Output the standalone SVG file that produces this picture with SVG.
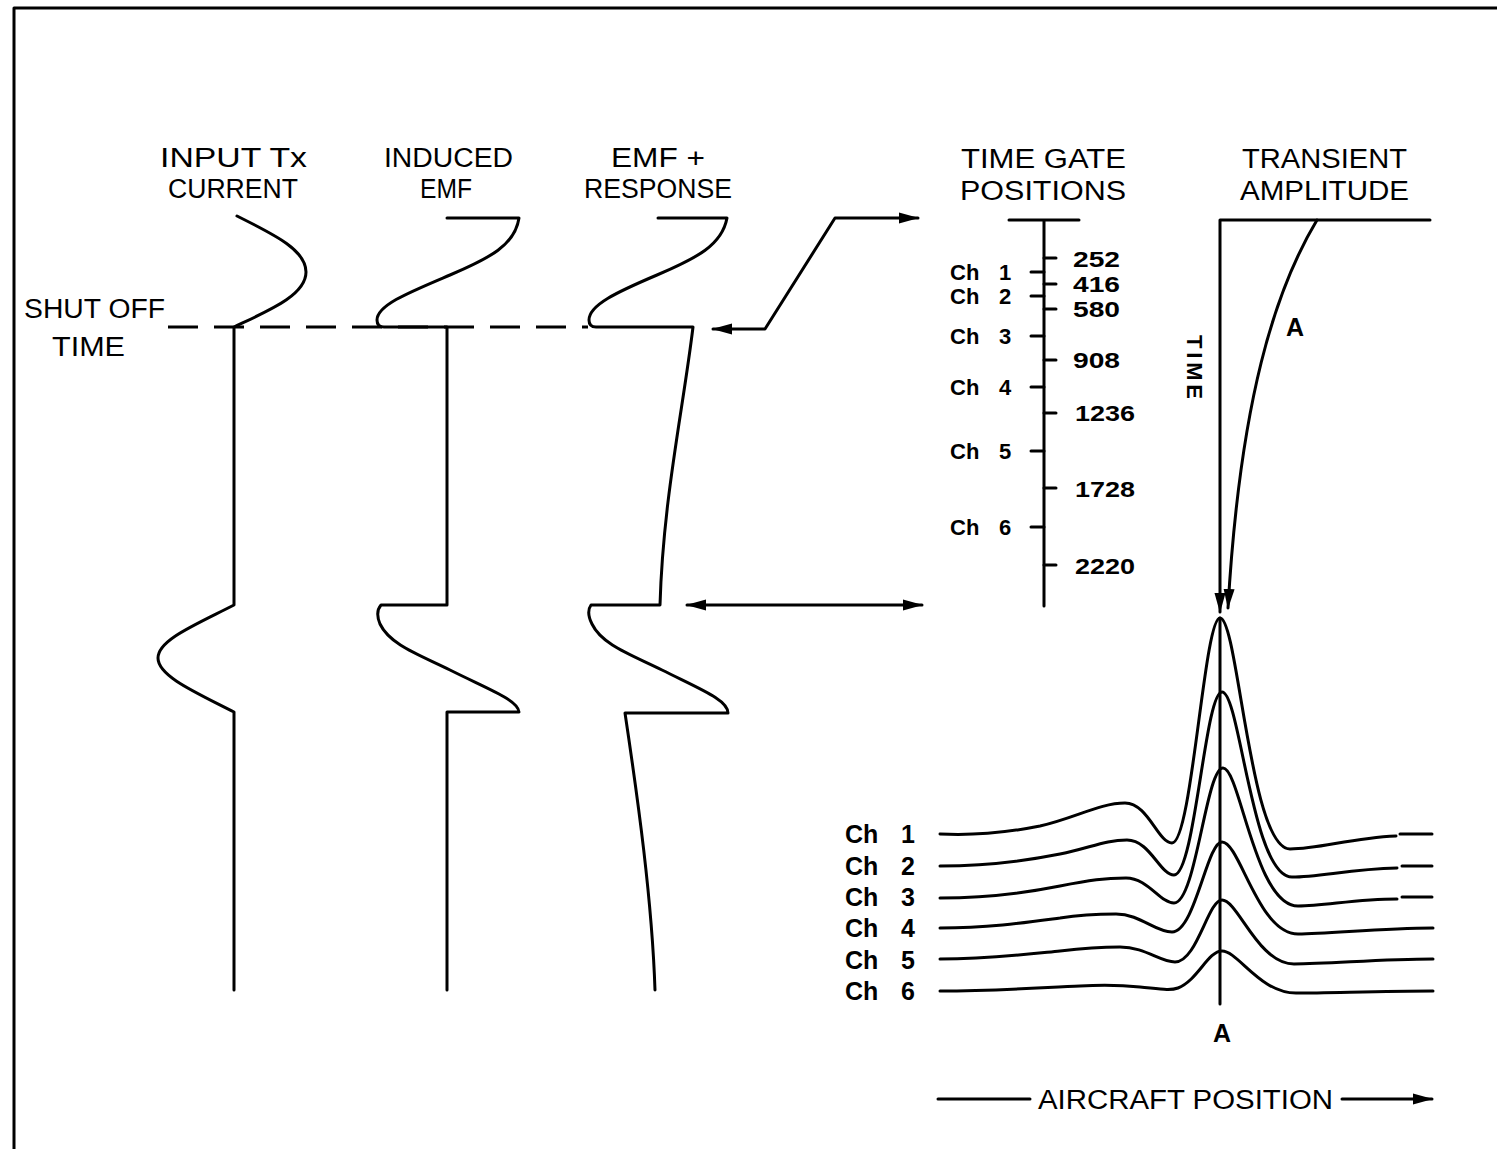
<svg xmlns="http://www.w3.org/2000/svg" width="1497" height="1149" viewBox="0 0 1497 1149">
<defs>
<style>
.ln{fill:none;stroke:#000;stroke-width:3;stroke-linecap:round;stroke-linejoin:round}
.dash{fill:none;stroke:#000;stroke-width:3;stroke-dasharray:30 16}
.hd{font-family:"Liberation Sans",Arial,sans-serif;font-size:27px;fill:#000}
.ch{font-family:"Liberation Sans",Arial,sans-serif;font-size:22px;font-weight:bold;fill:#000}
.chb{font-family:"Liberation Sans",Arial,sans-serif;font-size:25px;font-weight:bold;fill:#000}
.big{font-family:"Liberation Sans",Arial,sans-serif;font-size:25px;font-weight:bold;fill:#000}
</style>
<marker id="ah" markerWidth="20" markerHeight="12" refX="19" refY="6" orient="auto-start-reverse" markerUnits="userSpaceOnUse">
<path d="M0,0.5 L20,6 L0,11.5 Z" fill="#000"/>
</marker>
</defs>
<rect width="1497" height="1149" fill="#fff"/>
<g id="frame">
<path class="ln" d="M1497,8 L14,8 L14,1149"/>
</g>
<g id="labels">
<text class="hd" x="160" y="167" textLength="147" lengthAdjust="spacingAndGlyphs">INPUT Tx</text>
<text class="hd" x="168" y="198" textLength="130" lengthAdjust="spacingAndGlyphs">CURRENT</text>
<text class="hd" x="384" y="167" textLength="129" lengthAdjust="spacingAndGlyphs">INDUCED</text>
<text class="hd" x="420" y="198" textLength="52" lengthAdjust="spacingAndGlyphs">EMF</text>
<text class="hd" x="611" y="167" textLength="94" lengthAdjust="spacingAndGlyphs">EMF +</text>
<text class="hd" x="584" y="198" textLength="148" lengthAdjust="spacingAndGlyphs">RESPONSE</text>
<text class="hd" x="961" y="168" textLength="165" lengthAdjust="spacingAndGlyphs">TIME GATE</text>
<text class="hd" x="960" y="200" textLength="166" lengthAdjust="spacingAndGlyphs">POSITIONS</text>
<text class="hd" x="1242" y="168" textLength="165" lengthAdjust="spacingAndGlyphs">TRANSIENT</text>
<text class="hd" x="1240" y="200" textLength="169" lengthAdjust="spacingAndGlyphs">AMPLITUDE</text>
<text class="hd" x="24" y="318" textLength="141" lengthAdjust="spacingAndGlyphs">SHUT OFF</text>
<text class="hd" x="52" y="356" textLength="73" lengthAdjust="spacingAndGlyphs">TIME</text>
</g>
<g id="shutoff-line">
<path class="dash" d="M168,327 L588,327"/>
</g>
<g id="input-current">
<path class="ln" d="M237,216 C275,235 306,250 306,272 C306,295 270,310 234,327 L234,605 C195,625 158,640 158,658 C158,676 195,692 234,712 L234,990"/>
</g>
<g id="induced-emf">
<path class="ln" d="M447,218 L519,218 C515,245 490,258 450,275 C410,292 377,305 377,320 Q377,327 384,327 L447,327 L447,605 L381,605 Q375,612 380,624 C390,645 420,655 450,670 C490,690 518,700 519,712 L447,712 L447,990"/>
</g>
<g id="emf-response">
<path class="ln" d="M658,218 L727,218 C722,245 697,258 657,275 C617,292 589,305 589,320 Q589,327 596,327 L693,327 C683,410 663,500 660,605 L591,605 Q586,612 592,624 C602,645 632,655 662,670 C702,690 728,700 728,713 L625,713 C638,800 652,900 655,990"/>
</g>
<g id="connectors">
<path class="ln" d="M713,329 L765,329 L835,218 L918,218" marker-start="url(#ah)" marker-end="url(#ah)"/>
<path class="ln" d="M687,605 L922,605" marker-start="url(#ah)" marker-end="url(#ah)"/>
</g>
<g id="time-gate-axis">
<path class="ln" d="M1009,220 L1079,220 M1044,220 L1044,606"/>
<path class="ln" d="M1044,258 L1056,258 M1044,284 L1056,284 M1044,309 L1056,309 M1044,360 L1056,360 M1044,413 L1056,413 M1044,488 L1056,488 M1044,565 L1056,565"/>
<path class="ln" d="M1031,272 L1044,272 M1031,296 L1044,296 M1031,336 L1044,336 M1031,387 L1044,387 M1031,451 L1044,451 M1031,527 L1044,527"/>
<text class="ch" x="950" y="280">Ch<tspan x="999">1</tspan></text>
<text class="ch" x="950" y="304">Ch<tspan x="999">2</tspan></text>
<text class="ch" x="950" y="344">Ch<tspan x="999">3</tspan></text>
<text class="ch" x="950" y="395">Ch<tspan x="999">4</tspan></text>
<text class="ch" x="950" y="459">Ch<tspan x="999">5</tspan></text>
<text class="ch" x="950" y="535">Ch<tspan x="999">6</tspan></text>
<text class="ch" x="1073" y="267" textLength="47" lengthAdjust="spacingAndGlyphs">252</text>
<text class="ch" x="1073" y="292" textLength="47" lengthAdjust="spacingAndGlyphs">416</text>
<text class="ch" x="1073" y="317" textLength="47" lengthAdjust="spacingAndGlyphs">580</text>
<text class="ch" x="1073" y="368" textLength="47" lengthAdjust="spacingAndGlyphs">908</text>
<text class="ch" x="1075" y="421" textLength="60" lengthAdjust="spacingAndGlyphs">1236</text>
<text class="ch" x="1075" y="497" textLength="60" lengthAdjust="spacingAndGlyphs">1728</text>
<text class="ch" x="1075" y="574" textLength="60" lengthAdjust="spacingAndGlyphs">2220</text>
</g>
<g id="transient-amplitude">
<path class="ln" d="M1430,220 L1220,220 L1220,612" marker-end="url(#ah)"/>
<path class="ln" d="M1317,220 C1275,290 1240,400 1228,608" marker-end="url(#ah)"/>
<text class="big" x="1286" y="336">A</text>
<text class="ch" transform="translate(1187,367) rotate(90)" text-anchor="middle" textLength="64" lengthAdjust="spacing">TIME</text>
</g>
<g id="channel-profiles">
<path class="ln" d="M1220,618 L1220,1004"/>
<path class="ln" d="M940,834 C980,836 1010,832 1040,826 C1075,818 1100,803 1125,803 C1148,803 1158,843 1172,843 C1192,843 1204,618 1220,618 C1238,618 1250,849 1290,849 C1320,849 1350,838 1396,836 M1400,834 L1432,834"/>
<path class="ln" d="M940,866 C990,866 1030,860 1060,854 C1090,848 1105,840 1127,840 C1150,840 1160,875 1174,875 C1195,875 1205,692 1222,692 C1240,692 1252,877 1292,877 C1320,877 1350,869 1397,868 M1402,866 L1432,866"/>
<path class="ln" d="M940,898 C990,898 1030,892 1060,886 C1090,880 1105,878 1126,878 C1148,878 1160,903 1174,903 C1196,903 1206,768 1223,768 C1240,768 1255,906 1298,906 C1325,906 1355,899 1397,899 M1402,897 L1432,897"/>
<path class="ln" d="M940,928 C990,928 1030,922 1060,918 C1085,914 1100,914 1116,914 C1140,914 1155,932 1172,932 C1195,932 1207,842 1222,842 C1240,842 1258,934 1298,934 C1330,934 1380,928 1433,928"/>
<path class="ln" d="M940,959 C990,959 1030,954 1060,951 C1085,948 1100,947 1120,947 C1145,947 1160,962 1175,962 C1197,962 1208,900 1222,900 C1238,900 1258,964 1294,964 C1330,964 1380,959 1433,959"/>
<path class="ln" d="M940,991 C1000,991 1050,987 1080,986 C1100,985 1120,985 1140,987 C1160,989 1170,991 1178,988 C1198,980 1208,951 1222,951 C1238,951 1260,993 1296,993 C1330,993 1380,991 1433,991"/>
<text class="chb" x="845" y="843">Ch<tspan x="901">1</tspan></text>
<text class="chb" x="845" y="875">Ch<tspan x="901">2</tspan></text>
<text class="chb" x="845" y="906">Ch<tspan x="901">3</tspan></text>
<text class="chb" x="845" y="937">Ch<tspan x="901">4</tspan></text>
<text class="chb" x="845" y="969">Ch<tspan x="901">5</tspan></text>
<text class="chb" x="845" y="1000">Ch<tspan x="901">6</tspan></text>
<text class="chb" x="1222" y="1042" text-anchor="middle">A</text>
</g>
<g id="aircraft-position">
<path class="ln" d="M938,1099 L1030,1099"/>
<path class="ln" d="M1342,1099 L1432,1099" marker-end="url(#ah)"/>
<text class="hd" x="1038" y="1109" textLength="295" lengthAdjust="spacingAndGlyphs">AIRCRAFT POSITION</text>
</g>
</svg>
